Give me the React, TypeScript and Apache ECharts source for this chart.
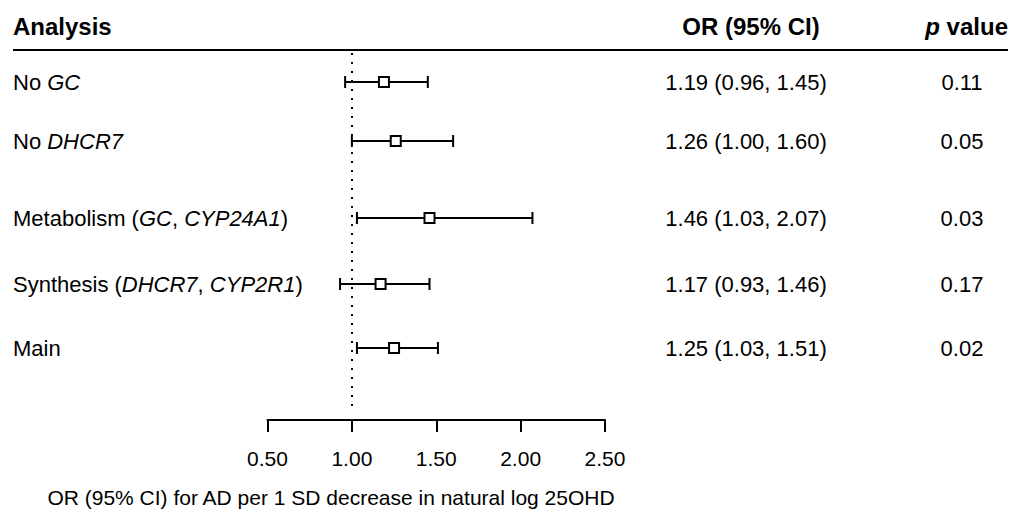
import React, { useEffect, useRef } from "react";
import * as echarts from "echarts";

// ---- data ----
const analyses = [
  "No {i|GC}",
  "No {i|DHCR7}",
  "Metabolism ({i|GC}, {i|CYP24A1})",
  "Synthesis ({i|DHCR7}, {i|CYP2R1})",
  "Main",
];
const orValues = [1.19, 1.26, 1.46, 1.17, 1.25];
const ciLower = [0.96, 1.0, 1.03, 0.93, 1.03];
const ciUpper = [1.45, 1.6, 2.07, 1.46, 1.51];
const pValues = ["0.11", "0.05", "0.03", "0.17", "0.02"];
const xTicks = [0.5, 1.0, 1.5, 2.0, 2.5];
const nullValue = 1.0;

// ---- layout (row offsets from top of plot area) ----
const rowPositions = [29, 88, 165, 231, 295];

const FONT = "'Liberation Sans', Arial, Helvetica, sans-serif";
const FS = 22;
const FS_AXIS = 21;
const FS_HEAD = 24;

export default function App() {
  const ref = useRef<HTMLDivElement>(null);

  useEffect(() => {
    const chart = echarts.init(ref.current!, null, { renderer: "svg" });
    const data = orValues.map((v, i) => [v, ciLower[i], ciUpper[i], rowPositions[i], i]);

    chart.setOption({
      animation: false,
      grid: { left: 267.5, width: 337.5, top: 53, height: 359 },
      xAxis: {
        type: "value",
        min: xTicks[0],
        max: xTicks[xTicks.length - 1],
        interval: 0.5,
        position: "bottom",
        offset: 8,
        axisLine: { show: true, onZero: false, lineStyle: { color: "#000", width: 2 } },
        axisTick: { show: true, length: 12, lineStyle: { color: "#000", width: 2 } },
        axisLabel: {
          formatter: (v: number) => v.toFixed(2),
          color: "#000",
          fontSize: FS_AXIS,
          fontFamily: FONT,
          margin: 28,
        },
        splitLine: { show: false },
      },
      yAxis: { type: "value", min: 0, max: 359, inverse: true, show: false },
      graphic: [
        {
          type: "text",
          x: 13,
          y: 26,
          style: {
            text: "Analysis",
            fontSize: FS_HEAD,
            fontWeight: "bold",
            fontFamily: FONT,
            fill: "#000",
            align: "left",
            verticalAlign: "middle",
          },
        },
        {
          type: "text",
          x: 751,
          y: 26,
          style: {
            text: "OR (95% CI)",
            fontSize: FS_HEAD,
            fontWeight: "bold",
            fontFamily: FONT,
            fill: "#000",
            align: "center",
            verticalAlign: "middle",
          },
        },
        {
          type: "text",
          x: 1008,
          y: 26,
          style: {
            text: "{i|p} value",
            fontSize: FS_HEAD,
            fontWeight: "bold",
            fontFamily: FONT,
            fill: "#000",
            align: "right",
            verticalAlign: "middle",
            rich: {
              i: { fontSize: FS_HEAD, fontWeight: "bold", fontStyle: "italic", fontFamily: FONT, fill: "#000" },
            },
          },
        },
        {
          type: "line",
          shape: { x1: 13, y1: 50, x2: 1008, y2: 50 },
          style: { stroke: "#000", lineWidth: 2 },
        },
        {
          type: "text",
          x: 331,
          y: 497,
          style: {
            text: "OR (95% CI) for AD per 1 SD decrease in natural log 25OHD",
            fontSize: FS_AXIS,
            fontFamily: FONT,
            fill: "#000",
            align: "center",
            verticalAlign: "middle",
          },
        },
      ],
      series: [
        {
          type: "custom",
          data,
          encode: { x: [0, 1, 2], y: 3 },
          renderItem: (params: any, api: any) => {
            const y = api.value(3);
            const idx = api.value(4);
            const lo = api.coord([api.value(1), y]);
            const hi = api.coord([api.value(2), y]);
            const cy = lo[1];
            const cap = 6;
            const ls = { stroke: "#000", lineWidth: 2 };
            const orTxt = `${orValues[idx].toFixed(2)} (${ciLower[idx].toFixed(2)}, ${ciUpper[idx].toFixed(2)})`;
            return {
              type: "group",
              children: [
                { type: "line", shape: { x1: lo[0], y1: cy, x2: hi[0], y2: cy }, style: ls },
                { type: "line", shape: { x1: lo[0], y1: cy - cap, x2: lo[0], y2: cy + cap }, style: ls },
                { type: "line", shape: { x1: hi[0], y1: cy - cap, x2: hi[0], y2: cy + cap }, style: ls },
                {
                  type: "text",
                  x: 13,
                  y: cy,
                  style: {
                    text: analyses[idx],
                    fontSize: FS,
                    fontFamily: FONT,
                    fill: "#000",
                    align: "left",
                    verticalAlign: "middle",
                    rich: { i: { fontSize: FS, fontStyle: "italic", fontFamily: FONT, fill: "#000" } },
                  },
                },
                {
                  type: "text",
                  x: 746,
                  y: cy,
                  style: { text: orTxt, fontSize: FS, fontFamily: FONT, fill: "#000", align: "center", verticalAlign: "middle" },
                },
                {
                  type: "text",
                  x: 962,
                  y: cy,
                  style: { text: pValues[idx], fontSize: FS, fontFamily: FONT, fill: "#000", align: "center", verticalAlign: "middle" },
                },
              ],
            };
          },
          z: 3,
        },
        {
          type: "scatter",
          data: orValues.map((v, i) => [v, rowPositions[i]]),
          symbol: "rect",
          symbolSize: 10,
          itemStyle: { color: "#fff", borderColor: "#000", borderWidth: 2, opacity: 1 },
          z: 5,
          markLine: {
            silent: true,
            symbol: "none",
            label: { show: false },
            lineStyle: { type: [2, 7], color: "#000", width: 2 },
            data: [{ xAxis: nullValue }],
          },
        },
      ],
    });

    return () => chart.dispose();
  }, []);

  return (
    <div
      ref={ref}
      style={{ position: "fixed", left: 0, top: 0, width: 1024, height: 515, background: "#fff" }}
    />
  );
}
